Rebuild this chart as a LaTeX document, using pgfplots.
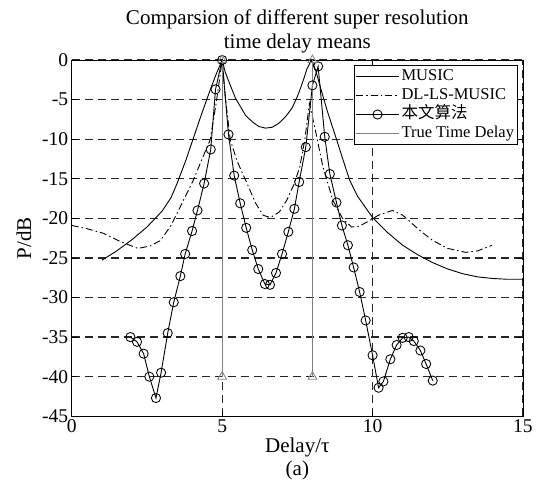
\documentclass[border=0pt]{standalone}
\usepackage{fontspec}
\setmainfont{Liberation Serif}
\newfontfamily\cjk{Noto Sans CJK SC}
\usepackage{pgfplots}
\pgfplotsset{compat=1.18}
\begin{document}
\begin{tikzpicture}
\begin{axis}[
  name=ax,
  scale only axis, width=451pt, height=356pt,
  xmin=0, xmax=15, ymin=-45, ymax=0,
  xtick={0,5,10,15}, ytick={-45,-40,...,0},
  tick align=inside, major tick length=5pt,
  tick style={black, line width=0.7pt},
  tick label style={font=\fontsize{19.5}{21}\selectfont},
  /pgf/number format/assume math mode=true,
  grid=major,
  major grid style={dash pattern=on 8pt off 5pt, line width=1.2pt, black!85},
  axis line style={line width=0.9pt},
  title={Comparsion of different super resolution\\time delay means},
  title style={align=center, font=\fontsize{21}{24.5}\selectfont, yshift=-3pt},
  xlabel={Delay/τ\\(a)},
  xlabel style={align=center, font=\fontsize{21}{23}\selectfont, yshift=2pt},
  ylabel={P/dB},
  ylabel style={font=\fontsize{21}{23}\selectfont},
  ylabel shift=4pt,
  clip=false,
  legend style={at={(1,1)}, anchor=north east, xshift=-5pt, yshift=-5pt,
    font=\fontsize{16.5}{18}\selectfont, draw=black, line width=0.9pt, fill=white,
    inner sep=1.5pt, nodes={inner ysep=2pt, inner xsep=2pt, text height=11.5pt, text depth=3.5pt}},
  legend cell align=left,
  legend image code/.code={\draw[mark repeat=2,mark phase=2,#1] plot coordinates {(0pt,0pt) (21.5pt,0pt) (43pt,0pt)};},
]
\addplot[black, line width=0.9pt] coordinates {
(1.0,-25.3)(1.5,-24.1)(2.0,-22.7)(2.5,-21.1)(3.0,-19.1)(3.3,-17.4)(3.5,-15.6)(3.8,-12.6)(4.04,-9.9)(4.3,-7.0)(4.6,-3.8)(4.8,-1.8)(5.0,0)(5.1,-1.5)(5.2,-2.5)(5.44,-4.8)(5.78,-7.0)(6.0,-7.8)(6.22,-8.4)(6.44,-8.6)(6.66,-8.5)(6.88,-8.0)(7.1,-7.2)(7.32,-6.1)(7.5,-4.6)(7.6,-3.6)(7.72,-2.3)(7.82,-1.1)(7.97,0)(8.1,-1.2)(8.3,-3.9)(8.5,-6.5)(8.8,-10.0)(9.0,-12.4)(9.24,-15.2)(9.5,-17.2)(10.0,-19.9)(10.5,-21.8)(11.0,-23.4)(11.5,-24.6)(12.0,-25.6)(12.5,-26.4)(13.0,-27.0)(13.5,-27.4)(14.0,-27.6)(14.5,-27.7)(15.0,-27.7)
};
\addlegendentry{MUSIC}
\addplot[black, line width=0.9pt, dash pattern=on 7pt off 3pt on 1.5pt off 3pt] coordinates {
(0,-20.9)(0.5,-21.3)(1.06,-21.9)(1.6,-22.9)(2.2,-23.8)(2.6,-23.5)(2.95,-22.8)(3.3,-20.9)(3.6,-18.6)(4.04,-15.2)(4.3,-12.8)(4.6,-10.1)(4.8,-5.5)(4.9,-2.8)(5.0,0)(5.1,-4.5)(5.27,-10.1)(5.5,-12.8)(5.83,-15.6)(6.1,-18.0)(6.36,-19.6)(6.6,-19.9)(6.9,-19.2)(7.15,-17.7)(7.4,-15.6)(7.58,-13.5)(7.75,-10.0)(7.9,-5.5)(8.05,-8.0)(8.35,-13.5)(8.68,-17.7)(9.0,-20.0)(9.3,-21.1)(9.55,-21.0)(9.8,-20.5)(10.2,-19.6)(10.66,-19.0)(11.0,-19.6)(11.56,-21.5)(12.0,-22.8)(12.5,-23.8)(13.1,-24.3)(13.5,-24.1)(13.97,-23.4)
};
\addlegendentry{DL-LS-MUSIC}
\addplot[black, line width=0.9pt, mark=o, mark size=4.6pt, mark options={solid, line width=0.85pt}] coordinates {
(1.95,-35.0)(2.17,-35.6)(2.39,-37.1)(2.58,-40.0)(2.8,-42.7)(2.97,-39.5)(3.19,-34.5)(3.39,-30.6)(3.61,-27.3)(3.77,-24.5)(4.0,-21.6)(4.18,-19.0)(4.4,-15.6)(4.62,-11.3)(4.78,-3.7)(5.0,0)(5.21,-9.4)(5.4,-14.6)(5.6,-18.1)(5.8,-21.2)(6.0,-24.0)(6.2,-26.4)(6.42,-28.3)(6.59,-28.4)(6.79,-26.9)(6.99,-24.5)(7.2,-21.7)(7.4,-18.8)(7.56,-15.4)(7.78,-11.0)(8.0,-3.2)(8.19,-0.8)(8.41,-9.7)(8.58,-14.4)(8.8,-18.0)(8.98,-20.9)(9.18,-23.4)(9.37,-26.2)(9.57,-29.3)(9.77,-32.9)(10.0,-37.3)(10.2,-41.4)(10.36,-40.6)(10.59,-37.8)(10.8,-36.0)(11.0,-35.1)(11.2,-35.0)(11.37,-35.5)(11.59,-36.7)(11.78,-38.4)(12.0,-40.5)
};
\addlegendentry{{\cjk 本文算法}}
\addplot[black!50, line width=0.8pt] coordinates {(5,-40)(5,0)};
\addlegendentry{True Time Delay}
\addplot[black!50, line width=0.8pt, forget plot] coordinates {(8,-40)(8,0)};
\addplot[black!50, only marks, mark=triangle, mark size=5pt, mark options={line width=0.8pt}, forget plot] coordinates {(5,-40)(5,0)(8,-40)(8,0)};
\end{axis}
\pgfresetboundingbox
\path ([shift={(-71.7pt,-69pt)}]ax.south west) rectangle ([shift={(25pt,60pt)}]ax.north east);
\end{tikzpicture}
\end{document}
